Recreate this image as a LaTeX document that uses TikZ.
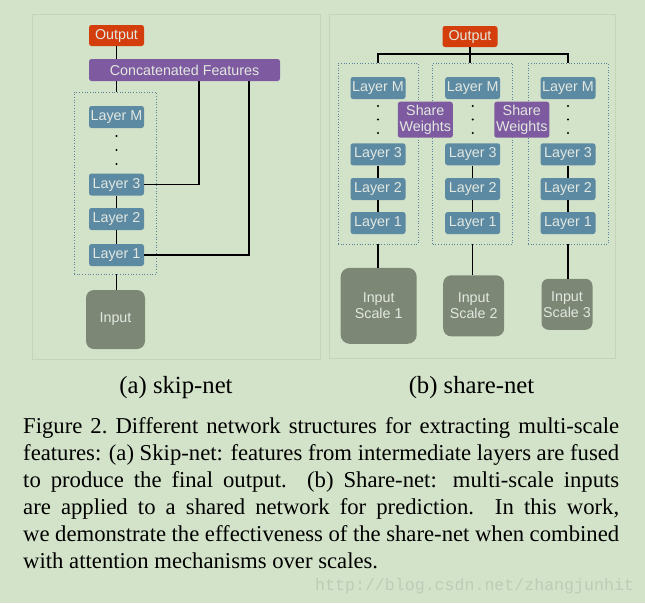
\documentclass[tikz,border=0pt]{standalone}
\usepackage{fontspec}
\setmainfont{Liberation Serif}
\setsansfont{Liberation Sans}
\setmonofont{Liberation Mono}

\definecolor{bgcol}{RGB}{211,227,201}
\definecolor{framecol}{RGB}{196,212,187}
\definecolor{outcol}{RGB}{212,62,12}
\definecolor{featcol}{RGB}{126,90,160}
\definecolor{layercol}{RGB}{93,138,163}
\definecolor{inputcol}{RGB}{125,135,118}
\definecolor{boxtext}{RGB}{226,232,224}
\definecolor{dotcol}{RGB}{95,130,155}
\definecolor{markcol}{RGB}{190,203,184}

\tikzset{
  block/.style={rounded corners=2.5pt, text=boxtext, inner sep=0pt, align=center,
    font=\sffamily\fontsize{14.3}{16}\selectfont},
  outbox/.style={block, fill=outcol, minimum width=55, minimum height=21},
  featbox/.style={block, fill=featcol, minimum height=22},
  layerbox/.style={block, fill=layercol, minimum width=55, minimum height=22},
  inbox/.style={block, fill=inputcol, rounded corners=8pt},
  group/.style={draw=dotcol, dotted, line width=0.7pt, inner sep=0pt},
  link/.style={line width=1.2pt},
  frame/.style={draw=framecol, line width=0.8pt}
}

\begin{document}
\begin{tikzpicture}[x=1pt, y=-1pt]
    % Background and page size
    \fill[bgcol] (0,0) rectangle (645,603);
    \useasboundingbox (0,0) rectangle (645,603);

    % Draw the two panel frames
    \draw[frame] (32,14) rectangle (320,359);
    \draw[frame] (329,14) rectangle (615,358);

    % (a) skip-net
    \node[outbox] (lout) at (116.5,35.5) {Output};
    \node[featbox, minimum width=191] (concat) at (184.5,70) {Concatenated Features};
    \node[group, minimum width=82, minimum height=182] (lgroup) at (115,183) {};
    \node[layerbox] (lM) at (116.5,117) {Layer M};
    \node[layerbox] (l3) at (116.5,184.5) {Layer 3};
    \node[layerbox] (l2) at (116.5,219) {Layer 2};
    \node[layerbox] (l1) at (116.5,255) {Layer 1};
    \node[inbox, minimum size=59] (lin) at (115.5,319.5) {Input};
    \foreach \y in {136,150,164}
        \fill (116.5,\y) circle (1.1);

    \coordinate (skip3) at (199,70);
    \coordinate (skip1) at (249,70);
    \draw[link] (lout.south) -- (lout.south |- concat.north);
    \draw[link] (lout.south |- concat.south) -- (lout.south |- lgroup.north);
    \draw[link] (l3) -- (l2) -- (l1);
    \draw[link] (l1 |- lgroup.south) -- (l1 |- lin.north);
    \draw[link] (l3.east) -| (skip3 |- concat.south);
    \draw[link] (l1.east) -| (skip1 |- concat.south);

    % (b) share-net
    \node[outbox] (rout) at (470,36.5) {Output};
    \foreach \col/\x in {1/378, 2/472.7, 3/568} {
        \node[group, minimum width=80, minimum height=181] (grp-\col) at (\x,153.5) {};
        \node[layerbox] (m-\col) at (\x,88) {Layer M};
        \node[layerbox] (c-\col) at (\x,154.3) {Layer 3};
        \node[layerbox] (b-\col) at (\x,189) {Layer 2};
        \node[layerbox] (a-\col) at (\x,223) {Layer 1};
        \foreach \y in {106,119.5,133}
            \fill (\x,\y) circle (1.1);
        \draw[link] (c-\col) -- (b-\col) -- (a-\col);
    }
    \node[featbox, minimum width=55, minimum height=36] (share1) at (425.3,119.7) {Share\\Weights};
    \node[featbox, minimum width=55, minimum height=36] (share2) at (521.8,119.7) {Share\\Weights};

    \node[inbox, minimum size=76, rounded corners=9pt] (in-1) at (378.7,305.8) {Input\\Scale 1};
    \node[inbox, minimum size=61] (in-2) at (473.7,305.8) {Input\\Scale 2};
    \node[inbox, minimum size=51, rounded corners=7pt] (in-3) at (567,304.3) {Input\\Scale 3};

    \coordinate (bus) at (470,54);
    \draw[link] (grp-1.north) |- (bus) -| (grp-3.north);
    \draw[link] (rout.south) -- (rout.south |- grp-2.north);
    \foreach \col in {1,2,3}
        \draw[link] (grp-\col.south) -- (grp-\col.south |- in-\col.north);

    % Sub-captions
    \node[anchor=base, font=\fontsize{24.7}{28}\selectfont] (capa) at (176,393) {(a) skip-net};
    \node[anchor=base, font=\fontsize{24.7}{28}\selectfont] (capb) at (471.5,393) {(b) share-net};

    % Figure caption
    \node[anchor=base west, inner sep=0pt, text width=596pt, align=justify,
          font=\fontsize{22.7}{27}\selectfont] (caption) at (23,433)
        {\hyphenpenalty=10000 Figure 2.\ Different network structures for extracting multi-scale\linebreak
        features: (a) Skip-net: features from intermediate layers are fused\linebreak
        to produce the final output.  (b) Share-net: multi-scale inputs\linebreak
        are applied to a shared network for prediction.  In this work,\linebreak
        we demonstrate the effectiveness of the share-net when combined\linebreak
        with attention mechanisms over scales.};

    % Watermark
    \node[anchor=base west, inner sep=0pt, text=markcol, font=\ttfamily\fontsize{16.6}{18}\selectfont]
        (mark) at (315,590) {http://blog.csdn.net/zhangjunhit};
\end{tikzpicture}
\end{document}
